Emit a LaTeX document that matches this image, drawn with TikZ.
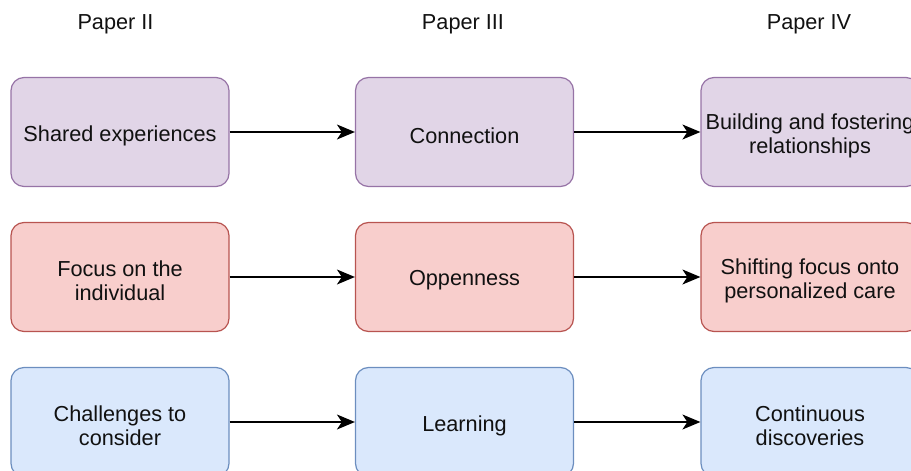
\documentclass[tikz,border=0pt]{standalone}
\usepackage{fontspec}
\setmainfont{Liberation Sans}
\usetikzlibrary{arrows.meta}
\definecolor{purpfill}{HTML}{E1D5E7}
\definecolor{purpline}{HTML}{9673A6}
\definecolor{redfill}{HTML}{F8CECC}
\definecolor{redline}{HTML}{B85450}
\definecolor{bluefill}{HTML}{DAE8FC}
\definecolor{blueline}{HTML}{6C8EBF}
\definecolor{ink}{HTML}{111111}
\tikzset{
  txt/.style={text=ink, align=center, inner sep=0pt,
    font=\fontsize{21.7}{24}\selectfont},
  % rounded card; its caption sits a little below the geometric centre
  card/.style={draw, line width=1.2pt, rounded corners=13pt, minimum width=218pt,
    minimum height=109pt, inner sep=0pt,
    label={[txt, yshift=-3.5pt]center:#1}},
  purp/.style={card={#1}, fill=purpfill, draw=purpline},
  redb/.style={card={#1}, fill=redfill, draw=redline},
  blueb/.style={card={#1}, fill=bluefill, draw=blueline},
  head/.style={txt},
  link/.style={line width=1.5pt, black, -{Stealth[length=18pt, width=15pt, inset=5pt]}}
}
\begin{document}
\begin{tikzpicture}[x=1pt, y=-1pt]
\useasboundingbox (0,0) rectangle (911,471);
% column headings
\node[head] (h2) at (115.5,24) {Paper II};
\node[head] (h3) at (463,24) {Paper III};
\node[head] (h4) at (809,24) {Paper IV};
% row 1
\node[purp={Shared experiences}] (a1) at (120,132) {};
\node[purp={Connection}] (a2) at (464.5,132) {};
\node[purp={Building and fostering\\relationships}] (a3) at (810,132) {};
% row 2
\node[redb={Focus on the\\individual}] (b1) at (120,277) {};
\node[redb={Oppenness}] (b2) at (464.5,277) {};
\node[redb={Shifting focus onto\\personalized care}] (b3) at (810,277) {};
% row 3
\node[blueb={Challenges to\\consider}] (c1) at (120,422) {};
\node[blueb={Learning}] (c2) at (464.5,422) {};
\node[blueb={Continuous\\discoveries}] (c3) at (810,422) {};
% connectors
\draw[link] (a1) -- (a2);
\draw[link] (a2) -- (a3);
\draw[link] (b1) -- (b2);
\draw[link] (b2) -- (b3);
\draw[link] (c1) -- (c2);
\draw[link] (c2) -- (c3);
\end{tikzpicture}
\end{document}
